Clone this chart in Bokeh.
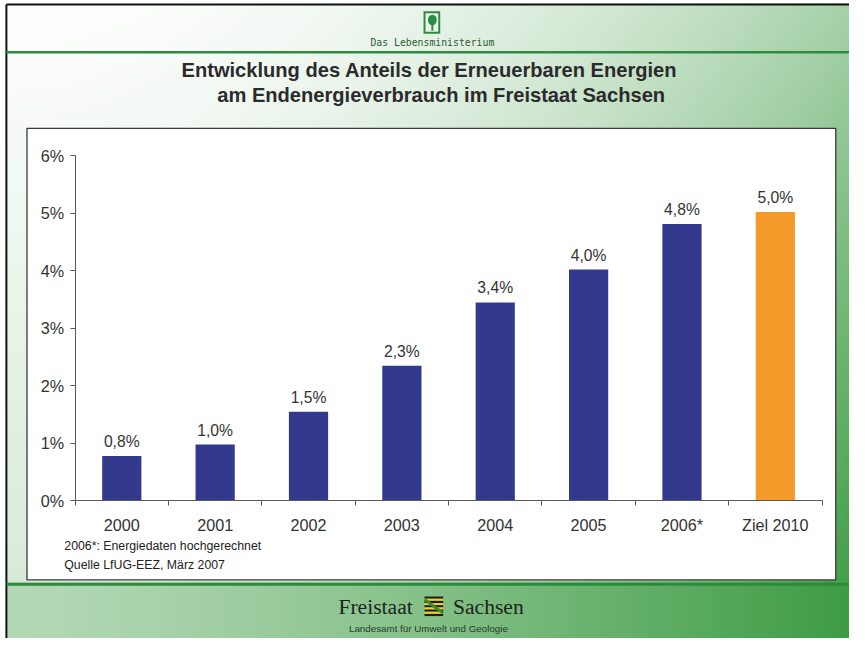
import numpy as np
from bokeh.plotting import figure
from bokeh.models import Range1d, LinearAxis, FixedTicker, ColumnDataSource
from bokeh.core.properties import value
from bokeh.embed import file_html
from bokeh.resources import INLINE

# ---------------- data ----------------
categories = ["2000", "2001", "2002", "2003", "2004", "2005", "2006*", "Ziel 2010"]
shares = [0.78, 0.98, 1.55, 2.35, 3.45, 4.02, 4.81, 5.02]
share_labels = ["0,8%", "1,0%", "1,5%", "2,3%", "3,4%", "4,0%", "4,8%", "5,0%"]
y_ticks = [0, 1, 2, 3, 4, 5, 6]
y_tick_labels = ["0%", "1%", "2%", "3%", "4%", "5%", "6%"]
title_lines = ["Entwicklung des Anteils der Erneuerbaren Energien",
               "am Endenergieverbrauch im Freistaat Sachsen"]
footnotes = ["2006*: Energiedaten hochgerechnet", "Quelle LfUG-EEZ, März 2007"]
header_text = "Das Lebensministerium"
footer_left = "Freistaat"
footer_right = "Sachsen"
footer_sub = "Landesamt für Umwelt und Geologie"

# ---------------- layout (reference pixel space 865x654 mapped onto the figure) ----------------
REF_W, REF_H = 865, 654
W, H = 849, 638
S = W / REF_W

def sy(y):
    return REF_H - y

def fs(px):
    return "%.1fpx" % (px * S)

FONT = value("Liberation Sans")

AX_X0, AX_X1 = 76.0, 837.0       # x-axis extent (reference px)
AX_Y0, AX_Y6 = 513.0, 159.0      # y of 0% and 6%
ncat = len(categories)
cat_w = (AX_X1 - AX_X0) / ncat
pct_px = (AX_Y0 - AX_Y6) / 6.0

p = figure(width=W, height=H, x_range=Range1d(0, REF_W), y_range=Range1d(0, REF_H),
           x_axis_type=None, y_axis_type=None, toolbar_location=None,
           output_backend="svg", min_border=0, outline_line_color=None)
p.background_fill_color = "white"
p.border_fill_color = "white"
p.extra_x_ranges = {"cat": Range1d((0 - AX_X0) / cat_w - 0.5, (REF_W - AX_X0) / cat_w - 0.5)}
p.extra_y_ranges = {"pct": Range1d((AX_Y0 - REF_H) / pct_px, AX_Y0 / pct_px)}

# ---------------- background gradient ----------------
FX0, FY0 = 6, 4   # slide frame origin
step = 3
cols = int(np.ceil((REF_W - FX0) / step))
rows = int(np.ceil((REF_H - FY0) / step))
xs = FX0 + step * (np.arange(cols) + 0.5)
ys_screen = REF_H - step * (np.arange(rows) + 0.5)
X, Y = np.meshgrid(xs, ys_screen)
fx = np.clip((X - FX0) / (REF_W - FX0), 0, 1)
fy = np.clip((Y - FY0) / 590.0, 0, 1)
left = 0.2 * fy
right = 0.45 + 0.5 * fy
m = left + (right - left) * fx ** 2
m = np.where(Y >= 598, 0.38 + 0.6 * fx ** 1.3, m)
G = np.array([58, 154, 64])
img = np.empty((rows, cols), dtype=np.uint32)
view = img.view(dtype=np.uint8).reshape((rows, cols, 4))
for k in range(3):
    view[:, :, k] = np.clip(255 * (1 - m) + G[k] * m, 0, 255).astype(np.uint8)
view[:, :, 3] = 255
p.image_rgba(image=[img], x=FX0, y=0, dw=cols * step, dh=rows * step)

# frame lines
p.segment(x0=[FX0, FX0], y0=[sy(FY0), sy(FY0)], x1=[FX0, REF_W], y1=[0, sy(FY0)],
          line_color="#111111", line_width=2)
# header / footer separator lines
p.segment(x0=FX0, y0=sy(53), x1=REF_W, y1=sy(53), line_color="#2e8b40", line_width=2.5)
p.segment(x0=FX0, y0=sy(598.5), x1=REF_W, y1=sy(598.5), line_color="#2b8a3c", line_width=3)

# logo
p.quad(left=431, right=448, top=sy(11), bottom=sy(34), fill_color="#2a8c42", line_color=None)
p.quad(left=433, right=446, top=sy(13), bottom=sy(32), fill_color="#e9f3e6", line_color=None)
p.ellipse(x=440, y=sy(20), width=9, height=11, fill_color="#2a8c42", line_color=None)
p.quad(left=439, right=441, top=sy(24), bottom=sy(31), fill_color="#2a8c42", line_color=None)
p.text(x=[440], y=[sy(43)], text=[header_text], text_align="center", text_baseline="middle",
       text_font=value("DejaVu Sans Mono"), text_font_size=fs(10), text_color="#2f5a33")

# title
p.text(x=[437, 449], y=[sy(71), sy(97)], text=title_lines, text_align="center",
       text_baseline="middle", text_font=FONT, text_font_style="bold",
       text_font_size=fs(20.5), text_color="#2b2b2b")

# chart panel
p.quad(left=27, right=851, top=sy(131), bottom=sy(594), fill_color="white",
       line_color="#3a3a3a", line_width=1.3)

# ---------------- bars ----------------
src = ColumnDataSource(dict(
    x=list(range(ncat)), top=shares, label=share_labels,
    color=["#333a8e"] * (ncat - 1) + ["#f39a2a"]))
p.vbar(x="x", top="top", bottom=0, width=0.42, fill_color="color", line_color=None,
       source=src, x_range_name="cat", y_range_name="pct")
p.text(x="x", y="top", text="label", source=src, x_range_name="cat", y_range_name="pct",
       text_align="center", text_baseline="bottom", y_offset=-6,
       text_font=FONT, text_font_size=fs(16), text_color="#333333")

# ---------------- axes ----------------
yax = LinearAxis(x_range_name="cat", y_range_name="pct", fixed_location=-0.5,
                 ticker=FixedTicker(ticks=y_ticks, minor_ticks=[]), bounds=(0, 6),
                 major_label_overrides={t: l for t, l in zip(y_ticks, y_tick_labels)},
                 major_tick_in=0, major_tick_out=5, minor_tick_line_color=None,
                 axis_line_color="#5a5a5a", major_tick_line_color="#5a5a5a",
                 major_label_text_font="Liberation Sans", major_label_text_font_size=fs(16.5),
                 major_label_text_color="#333333", major_label_standoff=6)
p.add_layout(yax, "left")

centers = list(range(ncat))
bound_ticks = [i - 0.5 for i in range(ncat + 1)]
xax = LinearAxis(x_range_name="cat", y_range_name="pct", fixed_location=0,
                 ticker=FixedTicker(ticks=centers, minor_ticks=bound_ticks),
                 bounds=(-0.5, ncat - 0.5),
                 major_label_overrides={c: l for c, l in zip(centers, categories)},
                 major_tick_in=0, major_tick_out=5, major_tick_line_color=None,
                 minor_tick_in=0, minor_tick_out=5, minor_tick_line_color="#5a5a5a",
                 axis_line_color="#5a5a5a",
                 major_label_text_font="Liberation Sans", major_label_text_font_size=fs(16.5),
                 major_label_text_color="#333333", major_label_standoff=10)
p.add_layout(xax, "below")

# footnotes
p.text(x=[65, 65], y=[sy(559), sy(579)], text=footnotes, text_align="left",
       text_baseline="middle", text_font=FONT, text_font_size=fs(12.5), text_color="#222222")

# ---------------- footer ----------------
p.text(x=[420], y=[sy(622)], text=[footer_left], text_align="right", text_baseline="middle",
       text_font=value("Liberation Serif"), text_font_size=fs(22), text_color="#1c261c")
p.text(x=[461], y=[sy(622)], text=[footer_right], text_align="left", text_baseline="middle",
       text_font=value("Liberation Serif"), text_font_size=fs(22), text_color="#1c261c")
stripe_n = 9
st_top = np.array([611 + i * 20.0 / stripe_n for i in range(stripe_n)])
p.quad(left=432, right=451, top=sy(st_top), bottom=sy(st_top + 20.0 / stripe_n),
       fill_color=["#1a1a1a" if i % 2 == 0 else "#f0d020" for i in range(stripe_n)],
       line_color=None)
p.segment(x0=432, y0=sy(614), x1=451, y1=sy(628), line_color="#3f8a2a", line_width=3)
p.text(x=[436], y=[sy(644)], text=[footer_sub], text_align="center", text_baseline="middle",
       text_font=FONT, text_font_size=fs(10), text_color="#2a3a2a")

open("out.html", "w").write(file_html(p, INLINE))
